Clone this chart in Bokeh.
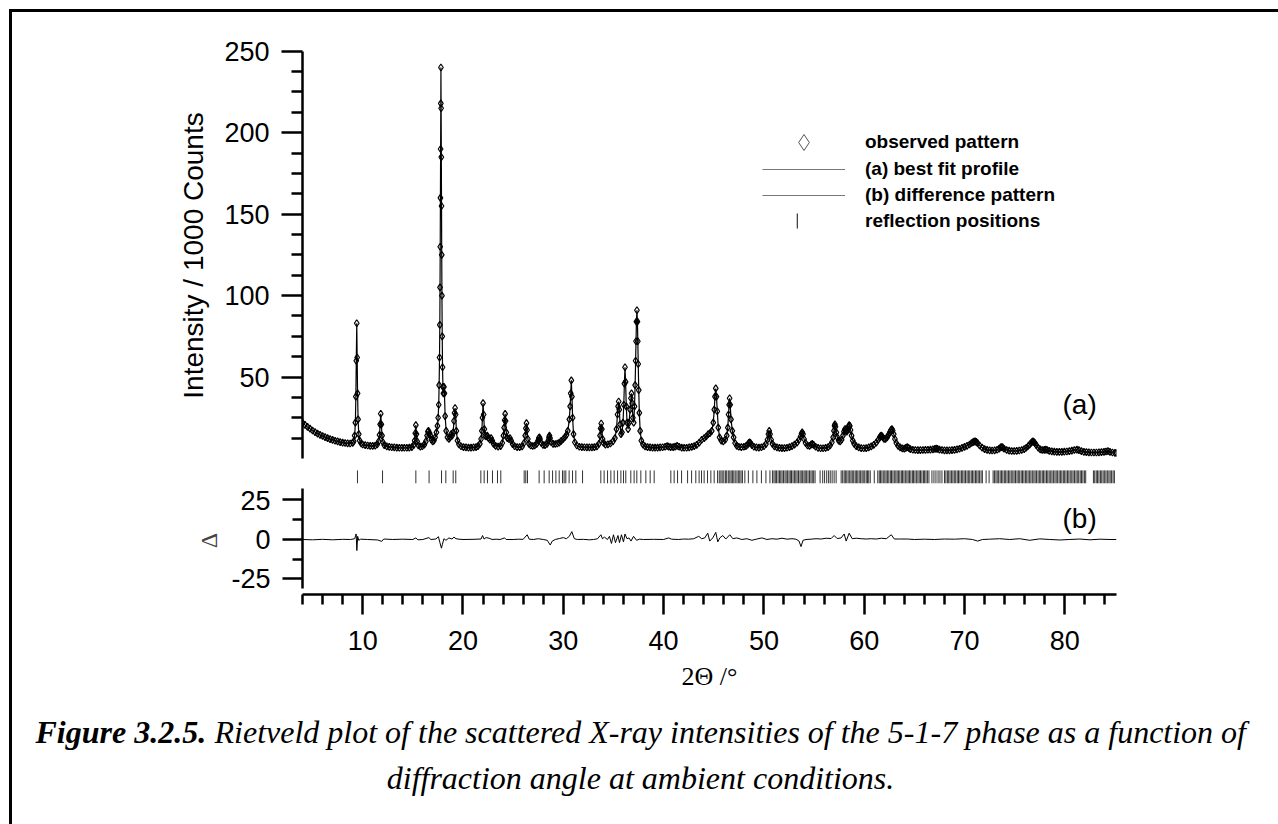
from bokeh.plotting import figure
from bokeh.models import (Range1d, LinearAxis, FixedTicker, Legend, LegendItem,
                          Label, Div, Spacer)
from bokeh.layouts import column, row
from bokeh.embed import file_html
from bokeh.resources import INLINE

SANS = "Liberation Sans"
SERIF = "Liberation Serif"
NAN = float("nan")

# ---------------- data ----------------
# observed / calculated profile, low-angle part (2theta in deg, intensity / 1000 counts)
tth_low = [4.0, 4.25, 4.5, 4.75, 5.0, 5.25, 5.5, 5.75, 6.0, 6.25,
           6.5, 6.75, 7.0, 7.25, 7.5, 7.75, 8.0, 8.25, 8.5, 8.75,
           9.0, 9.1, 9.2, 9.27, 9.32, 9.36, 9.41, 9.45, 9.49, 9.54,
           9.61, 9.7, 9.85, 10.0, 10.25, 10.5, 10.75, 11.0, 11.25, 11.45,
           11.6, 11.68, 11.74, 11.8, 11.86, 11.93, 12.02, 12.15, 12.4, 12.65,
           12.9, 13.15, 13.4, 13.65, 13.9, 14.15, 14.4, 14.65, 14.9, 15.08,
           15.18, 15.24, 15.3, 15.36, 15.43, 15.55, 15.75, 15.95, 16.15, 16.3,
           16.42, 16.5, 16.56, 16.62, 16.68, 16.75, 16.85, 16.98, 17.1, 17.22,
           17.35, 17.45, 17.52, 17.58, 17.62, 17.66, 17.69, 17.71, 17.73, 17.75,
           17.77, 17.79, 17.8, 17.82, 17.84, 17.86, 17.88, 17.9, 17.93, 17.96,
           18.0, 18.05, 18.1, 18.15, 18.22, 18.32, 18.45, 18.6, 18.72, 18.82,
           18.92, 19.02, 19.1, 19.16, 19.21, 19.27, 19.34, 19.45, 19.6, 19.8,
           20.05, 20.3, 20.55, 20.8, 21.05, 21.3, 21.5, 21.68, 21.8, 21.88,
           21.94, 22.0, 22.06, 22.13, 22.2, 22.3, 22.42, 22.55, 22.68, 22.8,
           22.92, 23.05, 23.25, 23.5, 23.75, 23.92, 24.03, 24.1, 24.15, 24.2,
           24.25, 24.32, 24.42, 24.55, 24.68, 24.8, 24.95, 25.15, 25.4, 25.65,
           25.9, 26.08, 26.2, 26.27, 26.33, 26.39, 26.47, 26.58, 26.75, 26.95,
           27.15, 27.35, 27.48, 27.56, 27.62, 27.68, 27.8, 27.98, 28.18, 28.38,
           28.5, 28.57, 28.62, 28.68, 28.8, 28.98, 29.2, 29.4, 29.6, 29.8,
           30.0, 30.18, 30.32, 30.45]
cnt_low = [22.0, 20.6, 19.4, 18.3, 17.2, 16.2, 15.3, 14.5, 13.8, 13.1,
           12.5, 11.9, 11.4, 10.9, 10.5, 10.1, 9.8, 9.5, 9.3, 9.2,
           9.6, 10.5, 14, 22, 38, 60, 83, 62, 40, 24,
           15, 11, 9.2, 8.6, 8.2, 8.0, 7.8, 7.8, 7.9, 8.6,
           10.5, 14.5, 21, 27.5, 21, 14, 10, 8.2, 7.4, 7.1,
           6.9, 6.8, 6.7, 6.6, 6.6, 6.6, 6.6, 6.7, 7.0, 8.2,
           11, 15.5, 20.5, 15, 10.5, 8.0, 7.3, 7.5, 8.5, 10.5,
           14, 16.5, 17, 15, 15.5, 14, 11.5, 10.5, 11, 13,
           16, 20, 25, 33, 45, 62, 82, 105, 130, 160,
           190, 218, 240, 215, 185, 155, 125, 100, 75, 56,
           44, 40, 44, 40, 26, 17, 13, 12, 13, 15,
           14, 16, 23, 28, 31, 27, 17, 11, 8.6, 7.5,
           7.0, 6.8, 6.7, 6.7, 6.8, 7.0, 7.6, 9, 12, 17,
           25, 34, 27, 18, 14, 13.5, 14, 12.5, 11.5, 12.5,
           11, 9, 7.8, 7.3, 7.6, 9.5, 14, 19, 23.5, 27.4,
           23, 16, 12.5, 12, 12.5, 11, 8.8, 7.5, 7.0, 7.0,
           7.4, 9.5, 14, 18.5, 21.7, 17.5, 12, 9, 8.0, 7.7,
           8.0, 9, 11, 12.5, 13, 12, 9.6, 8.3, 8.2, 9,
           11, 13, 14, 12.5, 10, 9, 8.9, 9.2, 9.8, 10.8,
           12, 13.2, 14.5, 17]
# high-angle part
tth_high = [30.6, 30.68, 30.74, 30.8, 30.86, 30.93, 31.02, 31.15, 31.35, 31.6,
            31.85, 32.1, 32.35, 32.6, 32.85, 33.1, 33.35, 33.55, 33.66, 33.72,
            33.78, 33.84, 33.92, 34.02, 34.2, 34.45, 34.7, 34.95, 35.15, 35.3,
            35.4, 35.46, 35.52, 35.58, 35.66, 35.75, 35.85, 35.95, 36.03, 36.09,
            36.15, 36.21, 36.28, 36.36, 36.46, 36.56, 36.66, 36.74, 36.8, 36.86,
            36.94, 37.02, 37.1, 37.16, 37.21, 37.25, 37.29, 37.34, 37.39, 37.43,
            37.47, 37.52, 37.58, 37.66, 37.78, 37.95, 38.15, 38.4, 38.65, 38.9,
            39.15, 39.4, 39.65, 39.9, 40.15, 40.35, 40.5, 40.7, 40.95, 41.15,
            41.35, 41.55, 41.8, 42.05, 42.3, 42.55, 42.8, 43.05, 43.3, 43.55,
            43.8, 44.05, 44.25, 44.45, 44.62, 44.8, 44.95, 45.05, 45.12, 45.2,
            45.27, 45.35, 45.45, 45.58, 45.75, 45.95, 46.15, 46.3, 46.4, 46.47,
            46.53, 46.58, 46.64, 46.72, 46.85, 46.98, 47.12, 47.3, 47.5, 47.75,
            48.0, 48.2, 48.38, 48.5, 48.57, 48.65, 48.8, 49.0, 49.25, 49.5,
            49.75, 50.0, 50.2, 50.35, 50.45, 50.53, 50.61, 50.72, 50.85, 51.05,
            51.3, 51.55, 51.8, 52.05, 52.3, 52.55, 52.8, 53.05, 53.3, 53.5,
            53.65, 53.75, 53.82, 53.9, 54.0, 54.15, 54.35, 54.55, 54.7, 54.82,
            54.95, 55.15, 55.4, 55.65, 55.9, 56.15, 56.4, 56.6, 56.78, 56.9,
            56.98, 57.04, 57.08, 57.14, 57.22, 57.32, 57.45, 57.6, 57.75, 57.88,
            57.98, 58.06, 58.11, 58.18, 58.26, 58.34, 58.43, 58.5, 58.56, 58.64,
            58.74, 58.86, 59.0, 59.2, 59.45, 59.7, 59.95, 60.2, 60.45, 60.7,
            60.95, 61.2, 61.4, 61.55, 61.62, 61.69, 61.76, 61.86, 61.98, 62.12,
            62.28, 62.42, 62.55, 62.66, 62.76, 62.84, 62.94, 63.06, 63.2, 63.38,
            63.58, 63.8, 64.0, 64.15, 64.29, 64.42, 64.6, 64.85, 65.1, 65.35,
            65.6, 65.85, 66.1, 66.35, 66.6, 66.85, 67.05, 67.18, 67.3, 67.5,
            67.75, 68.0, 68.25, 68.5, 68.75, 69.0, 69.25, 69.5, 69.75, 70.0,
            70.25, 70.5, 70.7, 70.85, 70.95, 71.06, 71.17, 71.3, 71.5, 71.75,
            72.0, 72.25, 72.5, 72.75, 73.0, 73.25, 73.45, 73.6, 73.7, 73.8,
            73.95, 74.2, 74.45, 74.7, 74.95, 75.2, 75.45, 75.7, 75.95, 76.15,
            76.35, 76.5, 76.65, 76.75, 76.82, 76.9, 77.0, 77.15, 77.35, 77.55,
            77.75, 77.95, 78.1, 78.25, 78.45, 78.7, 78.95, 79.2, 79.45, 79.7,
            79.95, 80.2, 80.45, 80.7, 80.95, 81.2, 81.4, 81.65, 81.9, 82.15,
            82.4, 82.65, 82.9, 83.15, 83.4, 83.65, 83.9, 84.1, 84.3, 84.5,
            84.75, 85.0, 85.15]
cnt_high = [24, 32, 40, 48, 38, 25, 15, 10, 8, 7.2,
            7.0, 6.9, 6.8, 6.8, 6.8, 7.0, 7.4, 9, 14, 18.5,
            21.5, 18, 12, 9.5, 8.5, 8.7, 9.2, 10.5, 12.5, 18,
            27, 32, 35, 30, 21, 15, 16, 22, 33, 46,
            56, 47, 32, 22, 18, 22, 30, 37, 40, 34,
            25, 22, 32, 45, 60, 72, 84, 91, 84, 72,
            58, 42, 28, 17, 11, 8.5, 7.4, 7.0, 6.8, 6.7,
            6.7, 6.7, 6.8, 6.9, 7.2, 7.7, 7.3, 7.0, 7.0, 7.3,
            7.8, 7.2, 6.7, 6.6, 6.6, 6.8, 7.1, 7.6, 8.4, 9.8,
            11.5, 12.5, 13.5, 15, 15.5, 17, 22, 30, 38, 43,
            38, 29, 19, 13, 11, 10.5, 11.5, 14, 19, 27,
            33, 37, 33, 24, 17, 13, 9.5, 7.8, 7.2, 7.0,
            7.2, 7.6, 8.5, 9.6, 10, 9.6, 8.2, 7.2, 6.8, 6.7,
            6.9, 7.5, 8.8, 11.5, 15, 17, 15, 11.5, 9, 7.4,
            6.8, 6.5, 6.4, 6.4, 6.6, 7.0, 7.6, 8.5, 9.8, 11.5,
            13.5, 15.3, 16, 15, 12, 9.5, 8.0, 7.8, 8.5, 9,
            8.4, 7.2, 6.5, 6.3, 6.3, 6.5, 7.0, 8.0, 10, 13,
            17, 20, 21, 19.5, 16, 13, 11, 10.5, 11.5, 14,
            16.5, 17.8, 18, 17, 16.5, 17.5, 19.5, 20.5, 20, 17.5,
            14, 11, 9, 7.6, 6.8, 6.4, 6.3, 6.4, 6.8, 7.4,
            8.4, 9.8, 11.5, 13, 13.8, 14, 13.8, 13, 12, 12,
            13, 14.5, 16, 17.5, 18, 17.2, 15, 12, 9.5, 7.8,
            6.8, 6.2, 6.1, 6.5, 7, 6.5, 5.8, 5.4, 5.2, 5.1,
            5.1, 5.2, 5.3, 5.4, 5.5, 5.6, 5.9, 6.1, 5.9, 5.5,
            5.2, 5.0, 5.0, 5.0, 5.1, 5.3, 5.6, 6.0, 6.5, 7.1,
            7.8, 8.6, 9.5, 10.1, 10.4, 10.5, 10.2, 9.4, 8.0, 6.7,
            5.8, 5.3, 5.0, 4.9, 5.0, 5.4, 6.1, 6.8, 7, 6.8,
            6.0, 5.2, 4.8, 4.6, 4.6, 4.7, 4.9, 5.2, 5.8, 6.6,
            7.7, 8.7, 9.7, 10.3, 10.5, 10.3, 9.6, 8.2, 6.6, 5.6,
            5.2, 5.3, 5.5, 5.2, 4.7, 4.4, 4.2, 4.1, 4.1, 4.1,
            4.2, 4.3, 4.5, 4.8, 5.2, 5.5, 5.1, 4.5, 4.1, 3.9,
            3.8, 3.7, 3.7, 3.7, 3.8, 3.9, 4.1, 4.3, 4.5, 4.1,
            3.7, 3.5, 3.4]

# difference pattern (obs - calc)
diff_tth = [4.0, 5.0, 6.0, 7.0, 8.0, 8.8, 9.2, 9.35, 9.42, 9.5,
            9.6, 9.8, 10.5, 11.5, 11.9, 12.1, 13.0, 14.0, 15.0, 15.3,
            15.5, 16.0, 16.6, 16.8, 17.3, 17.55, 17.7, 17.85, 17.95, 18.1,
            18.3, 18.6, 18.9, 19.1, 19.3, 19.6, 20.0, 21.0, 21.8, 21.95,
            22.1, 22.3, 22.6, 22.9, 23.3, 23.7, 24.15, 24.3, 25.0, 25.5,
            26.0, 26.4, 26.6, 27.0, 27.5, 28.0, 28.4, 28.7, 28.9, 29.2,
            29.6, 30.0, 30.3, 30.6, 30.85, 31.1, 31.4, 32.0, 32.6, 33.0,
            33.4, 33.75, 33.9, 34.1, 34.4, 34.6, 34.8, 35.0, 35.2, 35.45,
            35.6, 35.8, 36.0, 36.15, 36.35, 36.55, 36.75, 37.0, 37.3, 37.6,
            38.0, 39.0, 40.0, 40.5, 40.8, 41.5, 42.0, 42.5, 43.0, 43.5,
            43.8, 44.1, 44.4, 44.6, 44.9, 45.2, 45.4, 45.6, 45.9, 46.2,
            46.6, 46.9, 47.3, 47.8, 48.3, 48.8, 49.3, 49.8, 50.3, 50.8,
            51.3, 51.8, 52.3, 52.8, 53.2, 53.5, 53.7, 53.9, 54.2, 54.7,
            55.2, 55.7, 56.2, 56.7, 57.0, 57.3, 57.7, 58.0, 58.2, 58.5,
            58.8, 59.2, 59.7, 60.2, 60.7, 61.2, 61.7, 62.2, 62.7, 63.0,
            63.5, 64.3, 65.0, 66.0, 67.0, 68.0, 69.0, 70.0, 70.8, 71.3,
            71.8, 72.5, 73.5, 74.5, 75.5, 76.5, 77.5, 78.5, 79.5, 80.5,
            81.5, 82.5, 83.5, 84.5, 85.15]
diff_val = [0, -0.2, 0.1, -0.2, 0.1, 0, 0.5, 3.5, -7, 2,
            -0.5, 0.2, 0, -0.3, -1.2, 0.3, 0, 0.2, 0, 1,
            -0.2, 0, 1.2, 0, 0.3, 1.8, -2, -5.5, -3, 0.5,
            -0.5, 1, 0.3, 1.5, 0.5, 0.2, 0, 0.1, 0.3, 2.5,
            0.3, 1.2, 0.8, 0, 0.2, 0, 1, 0, 0, 0.2,
            0.1, 3, 0.2, 0, 0.5, 0, -0.5, -3.5, -1, 0,
            0.6, 1.2, 0.5, 2, 5, 0.5, 0, 0.1, -0.2, 0,
            0.4, 3, 0.5, 1.5, 0, 2, -2.5, 3, -2, 2.5,
            -2, 3, -1.5, 3.5, 0.5, 1, -1, 2, -0.5, 0.2,
            0, 0.1, 0, 1, 0.2, 0, 0.3, 0.2, 0.5, 2,
            0.5, 1, 4, -1, 1, 4.5, -1.5, 1, 2.5, 0.3,
            3, 0.5, 1, 0, 0.5, -0.5, 0.3, 1, 0, 0.5,
            0.2, 0.8, 0.2, 0.5, 0.2, -1, -4.5, -0.5, 0, 0.2,
            0.5, 0.3, 0.8, 0.6, 2.5, 0.6, 1, 3.5, -1, 4,
            0.5, 0.8, 0.5, 0.3, 0.5, 0.3, 0.8, 0.5, 3, 0.3,
            0.3, 0.3, 0, 0.2, 0, 0.3, 0.2, 0.5, 0, -1,
            0, 0.2, 0.5, 0, 0.5, -0.5, 0.4, 0, -0.3, 0,
            0.3, -0.2, 0.2, 0, 0]

# reflection positions (2theta, deg)
reflections = [9.48, 11.98, 15.30, 16.62, 17.86, 18.29, 19.02, 19.28, 21.78, 22.11,
               22.44, 22.94, 23.44, 23.77, 26.10, 26.26, 26.43, 27.59, 28.09, 28.59,
               28.93, 29.26, 29.59, 29.92, 30.08, 30.25, 30.58, 30.92, 31.25, 31.92,
               33.74, 34.07, 34.41, 34.74, 35.07, 35.41, 35.74, 36.00, 36.23, 36.73,
               37.06, 37.33, 37.73, 38.23, 38.66, 39.06, 40.72, 41.05, 41.39, 41.79,
               42.39, 42.79, 43.21, 43.54, 43.78, 44.04, 44.38, 44.71, 45.04, 45.38,
               45.55, 45.71, 45.84, 46.0, 46.16, 46.29, 46.45, 46.6, 46.73, 46.86,
               47.0, 47.14, 47.31, 47.45, 47.59, 47.72, 47.86,
               48.1, 48.45, 48.9, 49.3, 49.75, 50.2, 50.6,
               50.85, 51.0, 51.13, 51.25, 51.41, 51.55, 51.68, 51.81, 51.95, 52.1,
               52.22, 52.36, 52.5, 52.63, 52.75, 52.9, 53.04, 53.18, 53.31, 53.45,
               53.6, 53.72, 53.86, 54.0, 54.12, 54.26, 54.4, 54.55, 54.69, 54.82,
               54.96, 55.1,
               55.6, 55.86, 56.05, 56.26, 56.45, 56.61, 56.8, 57.0, 57.2,
               57.7, 57.85, 58.0, 58.12, 58.26, 58.4, 58.55, 58.68, 58.81, 58.95,
               59.1, 59.22, 59.36, 59.5, 59.64, 59.78, 59.9, 60.05, 60.2, 60.33,
               60.45, 60.6,
               61.0,
               61.35, 61.5, 61.62, 61.76, 61.9, 62.05, 62.18, 62.31, 62.45, 62.6,
               62.72, 62.86, 63.0, 63.15, 63.28, 63.41, 63.55, 63.7, 63.82, 63.96,
               64.1, 64.25, 64.38, 64.51, 64.65, 64.8, 64.92, 65.06, 65.2, 65.35,
               65.48, 65.61, 65.75, 65.9, 66.02, 66.16, 66.3, 66.45,
               66.75, 66.95, 67.15, 67.36, 67.55, 67.75,
               68.0, 68.14, 68.29, 68.42, 68.56, 68.71, 68.84, 68.98, 69.12, 69.27,
               69.4, 69.54, 69.69, 69.82, 69.96, 70.1, 70.25, 70.38, 70.52, 70.67,
               70.8, 70.94, 71.09, 71.22, 71.36, 71.5, 71.65, 71.78,
               72.15, 72.45,
               72.85, 72.98, 73.13, 73.26, 73.4, 73.55, 73.68, 73.82, 73.97, 74.1,
               74.24, 74.39, 74.52, 74.66, 74.81, 74.94, 75.08, 75.23, 75.36, 75.5,
               75.65, 75.78, 75.92, 76.07, 76.2, 76.34, 76.49, 76.62, 76.76, 76.91,
               77.04, 77.18, 77.33, 77.46, 77.6, 77.75, 77.88, 78.02, 78.17, 78.3,
               78.44, 78.59, 78.72, 78.86, 79.01, 79.14, 79.28, 79.43, 79.56, 79.7,
               79.85, 79.98, 80.12, 80.27, 80.4, 80.54, 80.69, 80.82, 80.96, 81.11,
               81.24, 81.38, 81.53, 81.66, 81.8, 81.95, 82.08,
               82.85, 82.98, 83.13, 83.26, 83.4, 83.55, 83.68, 83.82, 83.97, 84.1,
               84.24, 84.39, 84.52, 84.66, 84.81, 84.94]

y_major = [50, 100, 150, 200, 250]
y_minor = [12.5, 25, 37.5, 62.5, 75, 87.5, 112.5, 125, 137.5, 162.5, 175, 187.5,
           212.5, 225, 237.5]
d_major = [-25, 0, 25]
d_minor = [-12.5, 12.5]
x_major = [10, 20, 30, 40, 50, 60, 70, 80]
x_minor = [4, 6, 8, 12, 14, 16, 18, 22, 24, 26, 28, 32, 34, 36, 38, 42, 44, 46, 48,
           52, 54, 56, 58, 62, 64, 66, 68, 72, 74, 76, 78, 82, 84]

two_theta = tth_low + tth_high
counts = cnt_low + cnt_high

# ---------------- geometry / styles ----------------
X_RANGE = (4.0, 85.15)
MAIN_Y = (-17.18, 266.4)
DIFF_Y = (-34.81, 33.54)
REFL_TOP, REFL_BOTTOM = -7.3, -15.2
LEFT_B, RIGHT_B = 290, 162


def style_axis(ax, major_out, minor_out, standoff):
    ax.axis_line_width = 2.5
    ax.axis_line_color = "black"
    ax.major_tick_line_width = 2.5
    ax.minor_tick_line_width = 2.5
    ax.major_tick_line_color = "black"
    ax.minor_tick_line_color = "black"
    ax.major_tick_in = 0
    ax.major_tick_out = major_out
    ax.minor_tick_in = 0
    ax.minor_tick_out = minor_out
    ax.major_label_text_font = SANS
    ax.major_label_text_font_size = "27px"
    ax.major_label_text_color = "black"
    ax.major_label_standoff = standoff
    ax.axis_label_text_font_style = "normal"
    ax.axis_label_text_color = "black"


# ---------------- main panel ----------------
p = figure(width=1266, height=474, x_range=Range1d(*X_RANGE), y_range=Range1d(*MAIN_Y),
           x_axis_type=None, y_axis_type=None, toolbar_location=None,
           output_backend="svg", min_border_left=LEFT_B, min_border_right=RIGHT_B,
           min_border_top=12, min_border_bottom=0, outline_line_color=None)

yax = LinearAxis(bounds=(0, 250), ticker=FixedTicker(ticks=y_major, minor_ticks=y_minor),
                 axis_label="Intensity / 1000 Counts")
style_axis(yax, 21, 11, 12)
yax.axis_label_text_font = SANS
yax.axis_label_text_font_size = "28px"
yax.axis_label_standoff = 12
p.add_layout(yax, "left")

obs = p.scatter(two_theta, counts, marker="diamond", size=7, line_color="black",
                fill_color=None, line_width=1.2)
fit = p.line(two_theta, counts, line_color="black", line_width=1.2)
p.segment(x0=reflections, y0=[REFL_TOP] * len(reflections), x1=reflections,
          y1=[REFL_BOTTOM] * len(reflections), line_color="#333333", line_width=1)

p.add_layout(Label(x=79.77, y=33.3, text="(a)", text_font=SANS, text_font_size="28px",
                   text_baseline="middle", text_color="black"))

# legend proxies (one NaN point each, so nothing is drawn in the plot itself)
lg_obs = p.scatter([NAN], [NAN], marker="diamond", line_color="#555555", fill_color=None,
                   line_width=1)
lg_fit = p.line([NAN], [NAN], line_color="#777777", line_width=1)
lg_dif = p.line([NAN], [NAN], line_color="#777777", line_width=1)
lg_ref = p.quad(left=[NAN], right=[NAN], top=[NAN], bottom=[NAN], fill_color="#444444",
                line_color=None)


def add_legend(label, rend, vx, vy, gw, gh, standoff):
    lg = Legend(items=[LegendItem(label=label, renderers=[rend])], location=(vx, vy),
                glyph_width=gw, glyph_height=gh, label_height=gh, label_standoff=standoff,
                padding=0, margin=0, spacing=0, border_line_color=None,
                background_fill_alpha=0, label_text_font=SANS, label_text_font_size="19px",
                label_text_font_style="bold", label_text_color="black")
    p.add_layout(lg)


add_legend("observed pattern", lg_obs, 460, 324, 83, 40, 20)
add_legend("(a) best fit profile", lg_fit, 460, 304.5, 83, 26, 20)
add_legend("(b) difference pattern", lg_dif, 460, 278, 83, 26, 20)
add_legend("reflection positions", lg_ref, 494, 254.5, 2, 19, 67)

# ---------------- difference panel ----------------
d = figure(width=1266, height=214, x_range=p.x_range, y_range=Range1d(*DIFF_Y),
           x_axis_type=None, y_axis_type=None, toolbar_location=None,
           output_backend="svg", min_border_left=LEFT_B, min_border_right=RIGHT_B,
           min_border_top=0, min_border_bottom=106, outline_line_color=None)

dax = LinearAxis(bounds=(-31, 32.3), ticker=FixedTicker(ticks=d_major, minor_ticks=d_minor),
                 axis_label="Δ", major_label_overrides={-25: "-25"})
style_axis(dax, 20, 10, 12)
dax.axis_label_text_font = SERIF
dax.axis_label_text_font_size = "24px"
dax.axis_label_text_color = "#444444"
dax.axis_label_standoff = 6
d.add_layout(dax, "left")

xax = LinearAxis(bounds=X_RANGE, ticker=FixedTicker(ticks=x_major, minor_ticks=x_minor),
                 axis_label="2Θ /°")
style_axis(xax, 20, 10, 16)
xax.axis_label_text_font = SERIF
xax.axis_label_text_font_size = "26px"
xax.axis_label_standoff = 9
d.add_layout(xax, "below")

dif = d.line(diff_tth, diff_val, line_color="black", line_width=1)
d.add_layout(Label(x=79.77, y=13.3, text="(b)", text_font=SANS, text_font_size="28px",
                   text_baseline="middle", text_color="black"))

# ---------------- caption ----------------
cap = figure(width=1266, height=124, x_range=Range1d(0, 1), y_range=Range1d(0, 1),
             x_axis_type=None, y_axis_type=None, toolbar_location=None,
             output_backend="svg", min_border=0, outline_line_color=None)
cap.add_layout(Label(x=23, y=93, x_units="screen", y_units="screen", text="Figure 3.2.5.",
                     text_font=SERIF, text_font_style="bold italic", text_font_size="32px",
                     text_baseline="middle", text_color="black"))
cap.add_layout(Label(x=202, y=93, x_units="screen", y_units="screen",
                     text="Rietveld plot of the scattered X-ray intensities of the 5-1-7 phase as a function of",
                     text_font=SERIF, text_font_style="italic", text_font_size="32px",
                     text_baseline="middle", text_color="black"))
cap.add_layout(Label(x=628, y=47, x_units="screen", y_units="screen",
                     text="diffraction angle at ambient conditions.",
                     text_font=SERIF, text_font_style="italic", text_font_size="32px",
                     text_align="center", text_baseline="middle", text_color="black"))

# ---------------- page frame ----------------
BLACK = {"background-color": "black"}
top_rule = Div(text="", width=1269, height=3, margin=0, styles=BLACK)
rule_a = Div(text="", width=3, height=688, margin=0, styles=BLACK)
rule_b = Div(text="", width=3, height=124, margin=0, styles=BLACK)
layout = column(
    Spacer(width=1278, height=9, margin=0),
    row(Spacer(width=9, height=3, margin=0), top_rule),
    row(Spacer(width=9, height=688, margin=0), rule_a, column(p, d)),
    row(Spacer(width=9, height=124, margin=0), rule_b, cap),
)

open("out.html", "w").write(file_html(layout, INLINE, title="Rietveld plot"))
